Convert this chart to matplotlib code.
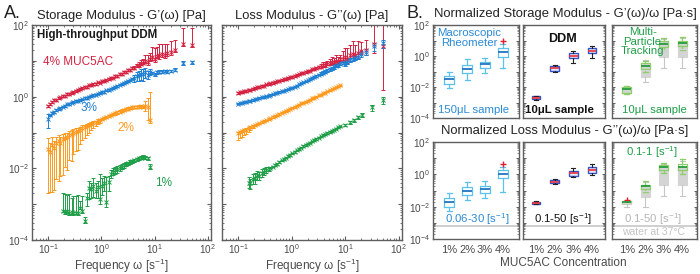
import numpy as np
import matplotlib
matplotlib.use("Agg")
import matplotlib.pyplot as plt
from matplotlib.ticker import LogLocator, FuncFormatter, NullFormatter

plt.rcParams['font.family'] = ['Liberation Sans', 'DejaVu Sans']
plt.rcParams['mathtext.fontset'] = 'custom'
plt.rcParams['mathtext.rm'] = 'Liberation Sans'
plt.rcParams['mathtext.it'] = 'Liberation Sans:italic'
plt.rcParams['mathtext.bf'] = 'Liberation Sans:bold'

RED = '#d42342'
BLUE = '#1f80d2'
ORANGE = '#ff9a1e'
GREEN = '#1f9e48'
TXT = '#4a4a4a'
SPINE = '#5e5e5e'

# ---------------- panel A: frequency sweeps ----------------
freq = [0.10, 0.11, 0.12, 0.13, 0.14, 0.16, 0.17, 0.19, 0.21, 0.23, 0.25, 0.28,
        0.30, 0.33, 0.37, 0.40, 0.44, 0.49, 0.53, 0.59, 0.65, 0.71, 0.78, 0.86,
        0.94, 1.03, 1.13, 1.25, 1.37, 1.50, 1.65, 1.82, 2.00, 2.20, 2.40, 2.65,
        2.90, 3.20, 3.50, 3.85, 4.20, 4.65, 5.10, 5.60, 6.10, 6.70, 7.40, 8.10]
freq_hi = [9.0, 10.0, 11.0, 12.3, 13.8, 15.5, 17.5, 20.0, 24.0, 34.0, 50.0]
freq_hi_g = [10.0, 12.3, 14.5, 17.0, 21.0, 32.0, 50.0]

# storage modulus G' [Pa]
gs_4 = [0.54, 0.63, 0.70, 0.79, 0.82, 0.93, 0.95, 1.04, 1.06, 1.16, 1.19, 1.30,
        1.33, 1.43, 1.53, 1.64, 1.72, 1.88, 1.89, 2.06, 2.11, 2.26, 2.32, 2.49,
        2.48, 2.66, 2.72, 2.98, 3.05, 3.28, 3.42, 3.68, 3.85, 4.25, 4.40, 4.85,
        4.95, 5.60, 5.70, 6.30, 6.40, 7.20, 7.50, 8.30, 8.80, 9.80, 9.10, 11.2]
gs_4_lo = [0.06] * 42 + [0.08, 0.10, 0.10, 0.12, 0.15, 0.12]
gs_4_up = [0.06] * 40 + [0.10, 0.12, 0.20, 0.25, 0.30, 0.45, 0.60, 0.50]
gs_4_hi = [12.5, 11.3, 13.8, 14.5, 15.1, 14.4, 16.6, 17.4, 19.9, 30.0, 27.0]
gs_4_hi_lo = [0.15, 0.20, 0.15, 0.20, 0.15, 0.15, 0.20, 0.15, 0.10, 0.15, 0.10]
gs_4_hi_up = [0.9, 1.0, 0.8, 1.1, 0.9, 1.0, 0.8, 1.0, 0.9, 1.7, 2.0]

gs_3 = [0.24, 0.30, 0.35, 0.37, 0.42, 0.45, 0.49, 0.53, 0.55, 0.61, 0.62, 0.68,
        0.70, 0.75, 0.78, 0.82, 0.84, 0.92, 0.93, 1.01, 1.04, 1.10, 1.14, 1.21,
        1.25, 1.33, 1.37, 1.49, 1.54, 1.67, 1.76, 1.88, 1.98, 2.16, 2.22, 2.42,
        2.55, 2.78, 2.86, 3.20, 3.30, 3.70, 3.90, 4.30, 4.20, 4.80, 4.10, 4.90]
gs_3_lo = [0.45] + [0.05] * 39 + [0.20, 0.25, 0.30, 0.30, 0.35, 0.30, 0.25, 0.20]
gs_3_up = [0.35] + [0.05] * 39 + [0.20, 0.30, 0.35, 0.40, 0.40, 0.30, 0.30, 0.20]
gs_3_hi = [4.6, 4.2, 4.8, 5.0, 5.0, 5.2, 5.0, 5.3, 5.7, 8.9, 9.1]
gs_3_hi_err = [0.08] * 9 + [0.12, 0.12]

gs_2 = [0.035, 0.028, 0.045, 0.036, 0.050, 0.057, 0.050, 0.066, 0.071, 0.074, 0.083, 0.090,
        0.099, 0.104, 0.113, 0.119, 0.133, 0.140, 0.152, 0.165, 0.178, 0.190, 0.200, 0.215,
        0.223, 0.241, 0.256, 0.276, 0.293, 0.310, 0.330, 0.345, 0.365, 0.385, 0.410, 0.425,
        0.450, 0.465, 0.490, 0.500, 0.515, 0.520, 0.530, 0.535, 0.510, 0.540, 0.500, 0.220]
gs_2_lo = [0.94, 0.92, 0.95, 0.93, 0.90, 0.92, 0.88, 0.90, 0.85, 0.88, 0.80, 0.82, 0.75,
           0.70, 0.72, 0.60, 0.55, 0.50, 0.45, 0.40, 0.35, 0.30, 0.25, 0.20, 0.15] + [0.08] * 20 + [0.25, 0.55, 0.15]
gs_2_up = [1.0, 0.8, 0.7, 0.6, 0.5, 0.45, 0.5, 0.4, 0.35, 0.35, 0.3, 0.3, 0.25, 0.25,
           0.2, 0.2, 0.18, 0.15, 0.15, 0.12] + [0.08] * 25 + [0.4, 0.8, 5.0]

gs_1 = [6.6e-4, 6.0e-4, 6.3e-4, 5.6e-4, 6.0e-4, 5.5e-4, 5.75e-4, 5.6e-4, 7.9e-4, 6.3e-4,
        3.3e-4, 1.51e-3, 2.82e-3, 2.63e-3, 3.16e-3, 2.40e-3, 3.02e-3, 1.41e-3, 3.31e-3,
        3.98e-3, 1.17e-3, 4.17e-3, 7.08e-3, 7.94e-3, 8.91e-3, 9.55e-3, 1.05e-2, 1.12e-2,
        1.20e-2, 1.32e-2, 1.38e-2, 1.48e-2, 1.58e-2, 1.66e-2, 1.78e-2, 1.91e-2, 2.0e-2,
        2.09e-2, 2.0e-2, 1.91e-2, 1.12e-2]
gs_1_lo = [0.1] * 11 + [0.4, 0.5, 0.45, 0.5, 0.4, 0.5, 0.3, 0.45, 0.4, 0.3, 0.45] + \
          [0.25, 0.2, 0.2, 0.2, 0.18, 0.15, 0.15, 0.12, 0.12, 0.1, 0.1, 0.1, 0.1, 0.1, 0.1, 0.1, 0.1, 0.1, 0.12]
gs_1_up = [2.1, 2.3, 1.8, 2.4, 1.5, 2.0, 1.9, 2.2, 0.6, 1.6, 0.3] + \
          [0.4, 0.6, 0.5, 0.7, 0.6, 0.5, 4.0, 0.6, 0.5, 4.0, 0.5] + \
          [0.3, 0.25, 0.25, 0.2, 0.2, 0.18, 0.15, 0.15, 0.12, 0.12, 0.1, 0.1, 0.1, 0.1, 0.1, 0.1, 0.1, 0.1, 0.2]

# loss modulus G'' [Pa]
gl_4 = [1.26, 1.32, 1.35, 1.41, 1.45, 1.55, 1.58, 1.66, 1.74, 1.82, 1.86, 2.00,
        2.04, 2.19, 2.29, 2.34, 2.45, 2.57, 2.69, 2.82, 2.88, 3.02, 3.16, 3.31,
        3.47, 3.55, 3.80, 3.98, 4.17, 4.47, 4.57, 4.90, 5.13, 5.37, 5.75, 5.89,
        6.31, 6.76, 6.92, 7.59, 7.41, 8.32, 8.51, 9.33, 9.12, 10.2, 9.55, 11.0]
gl_4_lo = [0.05] * 38 + [0.1] * 10
gl_4_up = [0.05] * 38 + [0.15, 0.2, 0.25, 0.2, 0.3, 0.35, 0.3, 0.4, 0.35, 0.3]
gl_4_hi = [11.5, 12.6, 11.2, 14.1, 15.8, 14.1, 16.6, 19.1, 20.0, 30.2, 26.3]
gl_4_hi_lo = [0.2, 0.25, 0.2, 0.3, 0.25, 0.2, 0.3, 0.2, 0.25, 0.45, 0.94]
gl_4_hi_up = [0.6, 0.8, 1.0, 0.9, 1.2, 1.0, 1.1, 0.8, 0.9, 4.0, 4.0]

gl_3 = [0.631, 0.646, 0.676, 0.692, 0.724, 0.759, 0.776, 0.813, 0.851, 0.871, 0.912, 0.955,
        0.977, 1.023, 1.072, 1.122, 1.175, 1.230, 1.288, 1.349, 1.413, 1.479, 1.549, 1.622,
        1.698, 1.778, 1.905, 2.042, 2.188, 2.344, 2.512, 2.692, 2.884, 3.090, 3.311, 3.548,
        3.802, 4.074, 4.365, 4.677, 5.012, 5.495, 5.888, 6.310, 6.761, 7.244, 7.586, 8.318]
gl_3_err = [0.04] * 38 + [0.1] * 10
gl_3_hi = [8.9, 8.3, 9.5, 10.5, 11.5, 12.0, 13.2, 15.8, 17.8, 25.7, 30.9]
gl_3_hi_err = [0.1, 0.12, 0.15, 0.12, 0.15, 0.12, 0.15, 0.2, 0.2, 0.25, 0.25]

gl_2 = [0.0955, 0.102, 0.107, 0.115, 0.120, 0.132, 0.138, 0.151, 0.158, 0.170, 0.182, 0.195,
        0.209, 0.219, 0.240, 0.251, 0.269, 0.288, 0.302, 0.331, 0.355, 0.380, 0.398, 0.427,
        0.457, 0.490, 0.513, 0.562, 0.603, 0.646, 0.676, 0.724, 0.776, 0.832, 0.891, 0.933,
        1.000, 1.096, 1.148, 1.230, 1.288, 1.413, 1.514, 1.585, 1.698, 1.820, 1.950, 2.089]
gl_2_lo = [0.35, 0.3, 0.3, 0.25, 0.22, 0.2, 0.15, 0.12] + [0.04] * 40
gl_2_up = [0.1] * 8 + [0.04] * 40

gl_1 = [3.98e-3, 3.80e-3, 5.01e-3, 5.25e-3, 6.31e-3, 6.03e-3, 7.59e-3, 7.94e-3, 8.91e-3,
        9.33e-3, 1.05e-2, 1.12e-2, 1.26e-2, 1.32e-2, 1.51e-2, 1.66e-2, 1.82e-2, 2.0e-2,
        2.19e-2, 2.40e-2, 2.63e-2, 2.88e-2, 3.16e-2, 3.47e-2, 3.80e-2, 4.17e-2, 4.47e-2,
        4.90e-2, 5.25e-2, 5.62e-2, 6.17e-2, 6.61e-2, 7.24e-2, 7.76e-2, 8.51e-2, 8.91e-2,
        9.77e-2, 0.105, 0.112, 0.120, 0.129, 0.138, 0.148]
gl_1_lo = [0.3, 0.3, 0.25, 0.3, 0.25, 0.2, 0.25, 0.2, 0.15, 0.12] + [0.05] * 33
gl_1_up = [0.4, 0.35, 0.35, 0.4, 0.3, 0.3, 0.3, 0.25, 0.2, 0.15] + [0.05] * 33
gl_1_hi = [0.162, 0.191, 0.219, 0.263, 0.309, 0.501, 0.794]
gl_1_hi_err = [0.05, 0.08, 0.1, 0.1, 0.15, 0.2, 0.2]

# ---------------- panel B: box statistics (whislo, q1, med, q3, whishi) ----------------
conc = ['1%', '2%', '3%', '4%']

rheo_gs = [[0.0087, 0.0155, 0.033, 0.051, 0.093],
           [0.028, 0.079, 0.145, 0.26, 0.65],
           [0.079, 0.17, 0.30, 0.41, 0.74],
           [0.17, 0.87, 1.8, 3.3, 5.9]]
rheo_gs_fliers = [[], [], [], [9.3]]
ddm_gs = [[0.0014, 0.0016, 0.0020, 0.0025, 0.0028],
          [0.10, 0.107, 0.17, 0.224, 0.25],
          [0.355, 0.74, 1.0, 1.55, 2.1],
          [0.74, 1.55, 2.1, 3.3, 4.5]]
mpt_all_gs = [[0.0035, 0.004, 0.0074, 0.01, 0.0112],
              [0.021, 0.045, 0.126, 0.355, 0.55],
              [0.17, 0.87, 2.5, 7.9, 12.6],
              [0.17, 0.87, 2.8, 7.9, 14.0]]
mpt_low_gs = [[0.0035, 0.004, 0.0074, 0.01, 0.0112],
              [0.10, 0.145, 0.224, 0.355, 0.48],
              [2.45, 3.8, 5.9, 9.3, 14.5],
              [2.5, 4.2, 6.9, 10.0, 15.8]]

rheo_gl = [[0.0055, 0.01, 0.02, 0.035, 0.071],
           [0.026, 0.054, 0.095, 0.166, 0.34],
           [0.035, 0.071, 0.126, 0.19, 0.39],
           [0.081, 0.6, 1.05, 1.86, 2.9]]
rheo_gl_fliers = [[], [], [], [4.4]]
ddm_gl = [[0.0138, 0.0148, 0.0174, 0.020, 0.022],
          [0.26, 0.295, 0.36, 0.45, 0.50],
          [0.69, 0.79, 1.23, 1.62, 2.5],
          [0.91, 1.23, 1.86, 2.9, 4.4]]
mpt_all_gl = [[0.010, 0.0141, 0.0174, 0.020, 0.023],
              [0.010, 0.040, 0.10, 0.224, 0.34],
              [0.047, 0.224, 0.79, 2.9, 4.4],
              [0.047, 0.224, 0.79, 2.9, 6.3]]
mpt_low_gl = [[0.0158, 0.0174, 0.020, 0.021, 0.022],
              [0.079, 0.126, 0.19, 0.224, 0.40],
              [1.23, 1.86, 2.9, 4.0, 5.2],
              [1.1, 1.78, 2.9, 4.6, 8.9]]
mpt_low_gl_fliers = [[0.026], [], [], []]
water_visc = 6.0e-4


def even_decades(v, pos):
    e = int(round(np.log10(v)))
    return r'$10^{%d}$' % e if e % 2 == 0 else ''


def all_decades(v, pos):
    return r'$10^{%d}$' % int(round(np.log10(v)))


def style_a(ax, ylabels=True):
    ax.set_xscale('log')
    ax.set_yscale('log')
    ax.set_xlim(0.05, 115)
    ax.set_ylim(1e-4, 1e2)
    for axis in (ax.xaxis, ax.yaxis):
        axis.set_major_locator(LogLocator(base=10, numticks=20))
        axis.set_minor_locator(LogLocator(base=10, subs=np.arange(2, 10), numticks=20))
        axis.set_minor_formatter(NullFormatter())
    ax.xaxis.set_major_formatter(FuncFormatter(all_decades))
    if ylabels:
        ax.yaxis.set_major_formatter(FuncFormatter(even_decades))
    else:
        ax.yaxis.set_major_formatter(NullFormatter())
    ax.tick_params(which='both', direction='in', top=True, right=True,
                   color=SPINE, labelcolor=TXT, labelsize=7.2)
    ax.tick_params(axis='x', pad=1.5)
    ax.tick_params(axis='y', pad=2)
    ax.tick_params(which='major', length=3, width=0.8)
    ax.tick_params(which='minor', length=1.6, width=0.6)
    for s in ax.spines.values():
        s.set_color(SPINE)
        s.set_linewidth(1.0)
    ax.set_xlabel(r'Frequency ω [s$^{-1}$]', fontsize=8.5, color=TXT, labelpad=0.5)


def series(ax, f, v, lo, up, color):
    v = np.array(v)
    yerr = [v * np.array(lo), v * np.array(up)]
    ax.errorbar(f, v, yerr=yerr, fmt='x', color=color, ms=2.2, mew=0.7,
                elinewidth=0.7, capsize=1.5, capthick=0.7)


fig = plt.figure(figsize=(7, 2.74), dpi=100)
W, H = 700.0, 274.0


def px_axes(x0, y0, x1, y1):
    return fig.add_axes([x0 / W, 1 - y1 / H, (x1 - x0) / W, (y1 - y0) / H])


# ---- A: storage modulus ----
axs = px_axes(32, 25, 211, 240)
style_a(axs)
series(axs, freq, gs_4, gs_4_lo, gs_4_up, RED)
series(axs, freq_hi, gs_4_hi, gs_4_hi_lo, gs_4_hi_up, RED)
series(axs, freq, gs_3, gs_3_lo, gs_3_up, BLUE)
series(axs, freq_hi, gs_3_hi, gs_3_hi_err, gs_3_hi_err, BLUE)
series(axs, freq, gs_2, gs_2_lo, gs_2_up, ORANGE)
series(axs, freq[7:], gs_1, gs_1_lo, gs_1_up, GREEN)
axs.set_title('Storage Modulus - G’(ω) [Pa]', fontsize=9.4, color='#222222', pad=4)
axs.text(0.03, 0.955, 'High-throughput DDM', transform=axs.transAxes, fontsize=8.3,
         fontweight='bold', color='#1a1a1a', va='center', ha='left')
axs.text(0.06, 0.828, '4% MUC5AC', transform=axs.transAxes, fontsize=8.5, color=RED, va='center')
axs.text(0.27, 0.614, '3%', transform=axs.transAxes, fontsize=8.5, color=BLUE, va='center')
axs.text(0.475, 0.52, '2%', transform=axs.transAxes, fontsize=8.5, color=ORANGE, va='center')
axs.text(0.687, 0.265, '1%', transform=axs.transAxes, fontsize=8.5, color=GREEN, va='center')

# ---- A: loss modulus ----
axl = px_axes(222, 25, 402, 240)
style_a(axl, ylabels=False)
series(axl, freq, gl_4, gl_4_lo, gl_4_up, RED)
series(axl, freq_hi, gl_4_hi, gl_4_hi_lo, gl_4_hi_up, RED)
series(axl, freq, gl_3, gl_3_err, gl_3_err, BLUE)
series(axl, freq_hi, gl_3_hi, gl_3_hi_err, gl_3_hi_err, BLUE)
series(axl, freq, gl_2, gl_2_lo, gl_2_up, ORANGE)
series(axl, freq[5:], gl_1, gl_1_lo, gl_1_up, GREEN)
series(axl, freq_hi_g, gl_1_hi, gl_1_hi_err, gl_1_hi_err, GREEN)
axl.set_title('Loss Modulus - G’’(ω) [Pa]', fontsize=9.4, color='#222222', pad=4)

fig.text(4 / W, 1 - 13 / H, 'A.', fontsize=13, color='#222222', va='center', ha='left')
fig.text(406 / W, 1 - 13 / H, 'B.', fontsize=13, color='#222222', va='center', ha='left')

# ---- B: box plots ----
def to_stats(rows, fliers=None):
    out = []
    for i, r in enumerate(rows):
        out.append(dict(whislo=r[0], q1=r[1], med=r[2], q3=r[3], whishi=r[4],
                        fliers=(fliers[i] if fliers else [])))
    return out


def style_b(ax, xlim, ylabels, xlabels):
    ax.set_yscale('log')
    ax.set_ylim(1e-4, 1e2)
    ax.set_xlim(*xlim)
    ax.yaxis.set_major_locator(LogLocator(base=10, numticks=20))
    ax.yaxis.set_minor_locator(LogLocator(base=10, subs=np.arange(2, 10), numticks=20))
    ax.yaxis.set_minor_formatter(NullFormatter())
    if ylabels:
        ax.yaxis.set_major_formatter(FuncFormatter(even_decades))
    else:
        ax.yaxis.set_major_formatter(NullFormatter())
    ax.set_xticks([1, 2, 3, 4])
    if xlabels:
        ax.set_xticklabels(conc)
    else:
        ax.set_xticklabels(['', '', '', ''])
    ax.tick_params(axis='y', which='both', direction='in', right=True, color=SPINE,
                   labelcolor=TXT, labelsize=7.2, pad=2)
    ax.tick_params(axis='y', which='major', length=2.5, width=0.7)
    ax.tick_params(axis='y', which='minor', length=1.4, width=0.5)
    ax.tick_params(axis='x', length=0, labelcolor=TXT, labelsize=8, pad=4)
    for s in ax.spines.values():
        s.set_color(SPINE)
        s.set_linewidth(1.0)


RHEO_EDGE = '#5cc2ec'
RHEO_MED = '#2474c0'
RHEO_TXT = '#2b8ad6'
DDM_EDGE = '#3552c6'
MPT_EDGE = '#8ccf6a'
MPT_MED = '#249c3c'
MPT_GRAY = '#d4d4d4'
FLIER = '#e0202f'
POS = [1, 2, 3, 4]


def rheo_box(ax, rows, fliers):
    ax.bxp(to_stats(rows, fliers), positions=POS, widths=0.55, showfliers=True,
           manage_ticks=False,
           boxprops=dict(color=RHEO_EDGE, linewidth=0.9),
           whiskerprops=dict(color=RHEO_EDGE, linewidth=0.9),
           capprops=dict(color=RHEO_EDGE, linewidth=0.9),
           medianprops=dict(color=RHEO_MED, linewidth=1.3),
           flierprops=dict(marker='+', markeredgecolor=FLIER, markersize=4, mew=1.0))


def ddm_box(ax, rows):
    ax.bxp(to_stats(rows), positions=POS, widths=0.45, patch_artist=True,
           manage_ticks=False,
           boxprops=dict(facecolor='#e6e9fb', edgecolor=DDM_EDGE, linewidth=1.0),
           whiskerprops=dict(color='#222222', linewidth=0.8),
           capprops=dict(color='#222222', linewidth=0.8),
           medianprops=dict(color='#e8303a', linewidth=1.2))


def mpt_box(ax, all_rows, low_rows, low_fliers=None):
    ax.bxp(to_stats(all_rows), positions=POS, widths=0.5, patch_artist=True,
           manage_ticks=False,
           boxprops=dict(facecolor=MPT_GRAY, edgecolor=MPT_GRAY, linewidth=0.8),
           whiskerprops=dict(color='#c6c6c6', linewidth=0.8),
           capprops=dict(color='#c6c6c6', linewidth=0.8),
           medianprops=dict(color=MPT_GRAY, linewidth=0.8))
    ax.bxp(to_stats(low_rows, low_fliers), positions=POS, widths=0.5, showfliers=True,
           manage_ticks=False,
           boxprops=dict(color=MPT_EDGE, linewidth=0.9),
           whiskerprops=dict(color=MPT_EDGE, linewidth=0.9),
           capprops=dict(color=MPT_EDGE, linewidth=0.9),
           medianprops=dict(color=MPT_MED, linewidth=1.3),
           flierprops=dict(marker='+', markeredgecolor=FLIER, markersize=4, mew=1.0))


cols = [(433, 519, (0.1, 4.9)), (523, 605, (0.3, 4.7)), (612, 697, (0.2, 4.8))]
top = [px_axes(c[0], 25, c[1], 118) for c in cols]
bot = [px_axes(c[0], 142, c[1], 239) for c in cols]

rheo_box(top[0], rheo_gs, rheo_gs_fliers)
ddm_box(top[1], ddm_gs)
mpt_box(top[2], mpt_all_gs, mpt_low_gs)
rheo_box(bot[0], rheo_gl, rheo_gl_fliers)
ddm_box(bot[1], ddm_gl)
mpt_box(bot[2], mpt_all_gl, mpt_low_gl, mpt_low_gl_fliers)
for ax in bot:
    ax.axhline(water_visc, color='#cccccc', lw=1.3, zorder=0)

for i, c in enumerate(cols):
    style_b(top[i], c[2], i == 0, False)
    style_b(bot[i], c[2], i == 0, True)

fig.text(565 / W, 1 - 14 / H, 'Normalized Storage Modulus - G’(ω)/ω [Pa·s]', fontsize=9.4,
         color='#222222', ha='center', va='center')
fig.text(565 / W, 1 - 131 / H, 'Normalized Loss Modulus - G’’(ω)/ω [Pa·s]', fontsize=9.4,
         color='#222222', ha='center', va='center')
fig.text(563 / W, 1 - 263 / H, 'MUC5AC Concentration', fontsize=8.5, color=TXT,
         ha='center', va='center')

kw = dict(ha='center', va='center', fontsize=8.2)
top[0].text(0.42, 0.86, 'Macroscopic\nRheometer', transform=top[0].transAxes,
            color=RHEO_TXT, linespacing=1.0, **kw)
top[0].text(0.47, 0.09, '150μL sample', transform=top[0].transAxes, color=RHEO_TXT, **kw)
top[1].text(0.48, 0.85, 'DDM', transform=top[1].transAxes, color='#111111',
            fontweight='bold', ha='center', va='center', fontsize=9)
top[1].text(0.45, 0.09, '10μL sample', transform=top[1].transAxes, color='#111111',
            fontweight='bold', ha='center', va='center', fontsize=8.2)
top[2].text(0.36, 0.82, 'Multi-\nParticle\nTracking', transform=top[2].transAxes,
            color=GREEN, linespacing=0.95, **kw)
top[2].text(0.5, 0.09, '10μL sample', transform=top[2].transAxes, color=GREEN, **kw)

bot[0].text(0.51, 0.206, r'0.06-30 [s$^{-1}$]', transform=bot[0].transAxes, color=RHEO_TXT, **kw)
bot[1].text(0.49, 0.206, r'0.1-50 [s$^{-1}$]', transform=bot[1].transAxes, color='#111111', **kw)
bot[2].text(0.47, 0.90, r'0.1-1 [s$^{-1}$]', transform=bot[2].transAxes, color=GREEN, **kw)
bot[2].text(0.48, 0.206, r'0.1-50 [s$^{-1}$]', transform=bot[2].transAxes, color='#b5b5b5', **kw)
bot[2].text(0.49, 0.075, 'water at 37°C', transform=bot[2].transAxes, color='#c4c4c4',
            ha='center', va='center', fontsize=7.5)

fig.savefig('out.png', dpi=100)
